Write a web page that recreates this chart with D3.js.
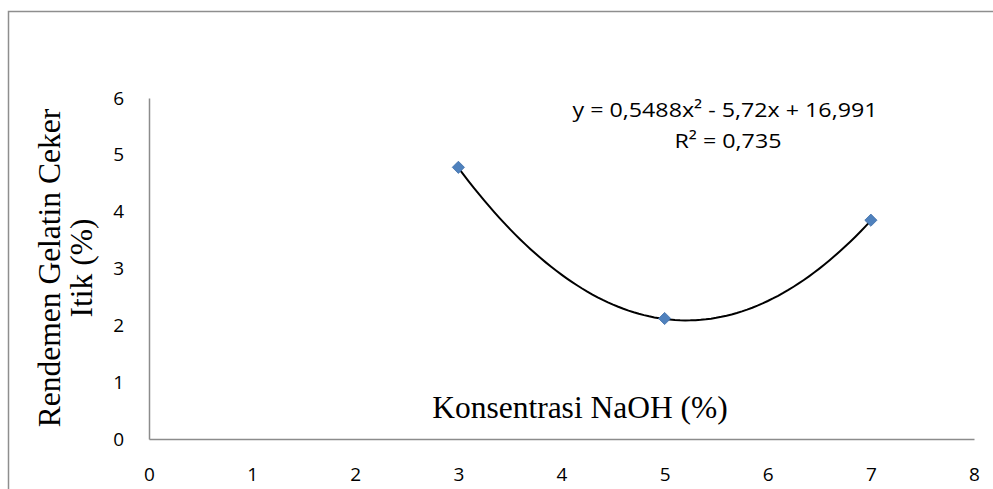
<!DOCTYPE html>
<html lang="en">
  <head>
    <meta charset="UTF-8" />
    <title>Rendemen Gelatin Ceker Itik</title>
    <script src="https://d3js.org/d3.v7.min.js"></script>
    <style>
      body { margin: 0; background: #fff; }
      .tick text { font-family: "Open Sans", "Liberation Sans", sans-serif; }
    </style>
  </head>
  <body>
    <div id="chart"></div>
    <script>
      // data
      var konsentrasi = [3, 5, 7];
      var rendemen = [4.78, 2.12, 3.85];
      var xTicks = [0, 1, 2, 3, 4, 5, 6, 7, 8];
      var yTicks = [0, 1, 2, 3, 4, 5, 6];
      // trendline coefficients as printed on the chart (a x^2 + b x + c)
      var trendCoef = [0.5488, -5.72, 16.991];
      var trendLabel = "y = 0,5488x² - 5,72x + 16,991";
      var r2Label = "R² = 0,735";

      var W = 993, H = 489;
      var margin = { top: 98, right: 19, bottom: 50, left: 149 };
      var width = W - margin.left - margin.right,
        height = H - margin.top - margin.bottom;

      var svg = d3.select("#chart").append("svg")
        .attr("width", W).attr("height", H);

      // outer chart border (right and bottom run off the picture)
      svg.append("rect")
        .attr("x", 8.5).attr("y", 11.5)
        .attr("width", W + 10).attr("height", H + 10)
        .attr("fill", "none").attr("stroke", "#8e8e8e").attr("stroke-width", 1.5);

      var g = svg.append("g")
        .attr("transform", "translate(" + margin.left + "," + margin.top + ")");

      var x = d3.scaleLinear().domain([0, 8]).range([0, width]);
      var y = d3.scaleLinear().domain([0, 6]).range([height, 0]);

      var xAxis = g.append("g")
        .attr("transform", "translate(0," + height + ")")
        .call(d3.axisBottom(x).tickValues(xTicks).tickFormat(d3.format("d")).tickSize(0).tickPadding(29));
      var yAxis = g.append("g")
        .call(d3.axisLeft(y).tickValues(yTicks).tickFormat(d3.format("d")).tickSize(0).tickPadding(25));

      [xAxis, yAxis].forEach(function (a) {
        a.select(".domain").attr("stroke", "#8c8c8c").attr("stroke-width", 1.5);
        a.selectAll(".tick text").attr("font-size", 19).attr("fill", "#000");
      });

      // trendline
      var curve = d3.range(3, 7.001, 0.05).map(function (v) {
        return { x: v, y: trendCoef[0] * v * v + trendCoef[1] * v + trendCoef[2] };
      });
      g.append("path")
        .datum(curve)
        .attr("fill", "none")
        .attr("stroke", "#000")
        .attr("stroke-width", 2)
        .attr("d", d3.line().x(function (d) { return x(d.x); }).y(function (d) { return y(d.y); }));

      // markers
      g.selectAll(".pt")
        .data(konsentrasi)
        .enter().append("path")
        .attr("class", "pt")
        .attr("transform", function (d, i) {
          return "translate(" + x(d) + "," + y(rendemen[i]) + ")";
        })
        .attr("d", d3.symbol().type(d3.symbolDiamond2).size(95))
        .attr("fill", "#4f81bd")
        .attr("stroke", "#3d6da8")
        .attr("stroke-width", 0.8);

      // equation labels
      svg.append("text")
        .attr("x", 725).attr("y", 117)
        .attr("text-anchor", "middle")
        .attr("font-family", "Open Sans, Liberation Sans, sans-serif")
        .attr("font-size", 20)
        .attr("textLength", 305)
        .attr("lengthAdjust", "spacingAndGlyphs")
        .text(trendLabel);
      svg.append("text")
        .attr("x", 728).attr("y", 148)
        .attr("text-anchor", "middle")
        .attr("font-family", "Open Sans, Liberation Sans, sans-serif")
        .attr("font-size", 20)
        .attr("textLength", 107)
        .attr("lengthAdjust", "spacingAndGlyphs")
        .text(r2Label);

      // axis titles
      svg.append("text")
        .attr("x", 580).attr("y", 418)
        .attr("text-anchor", "middle")
        .attr("font-family", "Liberation Serif, Times New Roman, serif")
        .attr("font-size", 31.5)
        .text("Konsentrasi NaOH (%)");

      var yt = svg.append("text")
        .attr("transform", "translate(0,268) rotate(-90)")
        .attr("text-anchor", "middle")
        .attr("font-family", "Liberation Serif, Times New Roman, serif")
        .attr("font-size", 31.5);
      yt.append("tspan").attr("x", 0).attr("y", 60).text("Rendemen Gelatin Ceker");
      yt.append("tspan").attr("x", 0).attr("y", 92).text("Itik (%)");
    </script>
  </body>
</html>
